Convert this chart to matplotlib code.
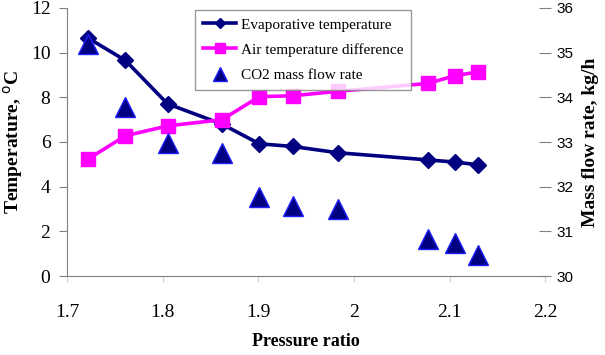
import numpy as np
import matplotlib.pyplot as plt

# pressure ratio and measured quantities
pressure_ratio = [1.722, 1.761, 1.805, 1.862, 1.901, 1.936, 1.983, 2.077, 2.106, 2.130]
evap_temp = [10.65, 9.65, 7.71, 6.8, 5.92, 5.8, 5.52, 5.2, 5.1, 4.98]
air_temp_diff = [5.24, 6.28, 6.72, 7.0, 8.03, 8.07, 8.27, 8.62, 8.97, 9.14]
co2_flow = [35.2, 33.78, 32.97, 32.75, 31.77, 31.57, 31.5, 30.82, 30.73, 30.48]

serif = 'Liberation Serif'
sans = 'Liberation Sans'

fig = plt.figure(figsize=(6.05, 3.55), dpi=100)
ax = fig.add_axes([0.111, 0.2225, 0.79, 0.755])
ax2 = ax.twinx()

l1, = ax.plot(pressure_ratio, evap_temp, color='#000080', lw=2.6, marker='D',
              ms=8, mfc='#000080', mec='#000080', label='Evaporative temperature')
l2, = ax.plot(pressure_ratio, air_temp_diff, color='#FF00FF', lw=2.6, marker='s',
              ms=10, mfc='#FF00FF', mec='#FF00FF', label='Air temperature difference')
l3, = ax2.plot(pressure_ratio, co2_flow, ls='none', marker='^', ms=15,
               mfc='#000080', mec='#2020FF', mew=1, label='CO2 mass flow rate')

ax.set_xlim(1.7, 2.2)
ax.set_ylim(0, 12)
ax2.set_ylim(30, 36)
ax.set_xticks(np.arange(1.7, 2.21, 0.1))
ax.set_xticklabels(['1.7', '1.8', '1.9', '2', '2.1', '2.2'])
ax.set_yticks(range(0, 13, 2))
ax2.set_yticks(range(30, 37))

for s in ['top', 'right']:
    ax.spines[s].set_visible(False)
for s in ['top', 'right', 'left', 'bottom']:
    ax2.spines[s].set_visible(False)
ax.spines['left'].set_color('#808080')
ax.spines['bottom'].set_color('#808080')

ax.tick_params(axis='y', direction='out', length=6, color='#808080', labelsize=14, pad=6)
ax.tick_params(axis='x', direction='out', length=4, color='#d0d0d0', labelsize=14, pad=16)
ax2.tick_params(axis='y', direction='inout', length=8, color='#808080', labelsize=11, pad=4)
for lab in ax.get_xticklabels() + ax.get_yticklabels():
    lab.set_fontfamily(serif)
for lab in ax2.get_yticklabels():
    lab.set_fontfamily(sans)

ax.set_xlabel('Pressure ratio', fontfamily=serif, fontweight='bold', fontsize=13, labelpad=9)
ax.set_ylabel('Temperature, $^{\\rm o}$C', fontfamily=serif, fontweight='bold', fontsize=14, labelpad=4)
ax2.set_ylabel('Mass flow rate, kg/h', fontfamily=serif, fontweight='bold', fontsize=14,
               rotation=90, labelpad=6)

leg = ax.legend(handles=[l1, l2, l3], loc='upper left', bbox_to_anchor=(0.252, 1.02),
                prop={'family': serif, 'size': 11}, frameon=True, fancybox=False,
                handlelength=2.2, handletextpad=0.3, borderpad=0.5, labelspacing=0.75,
                markerscale=0.7)
leg.get_frame().set_edgecolor('#808080')
leg.get_frame().set_linewidth(1)

fig.savefig('out.png', dpi=100)
